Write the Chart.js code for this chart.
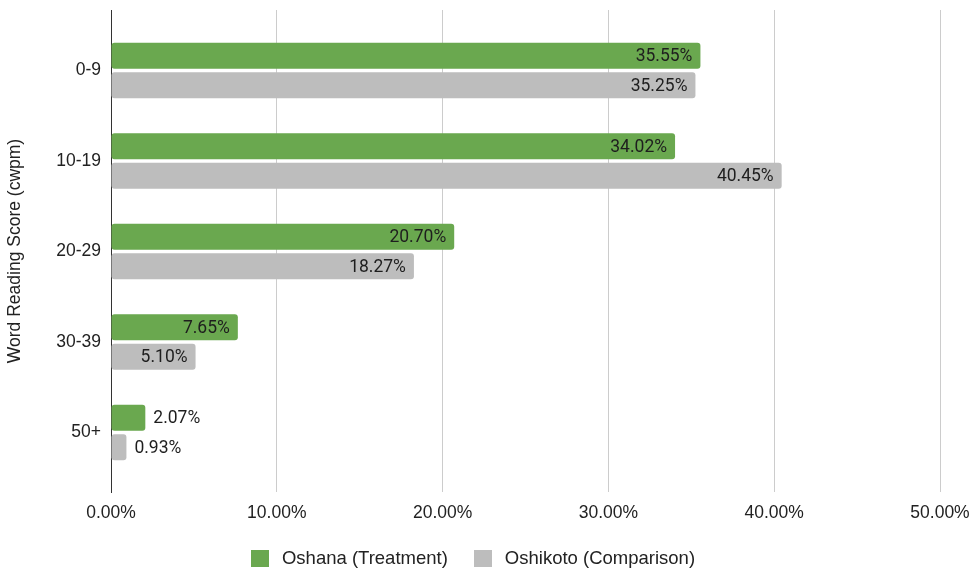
<!DOCTYPE html>
<html>
<head>
<meta charset="utf-8">
<title>Word Reading Score (cwpm)</title>
<script src="https://cdn.jsdelivr.net/npm/chart.js@4/dist/chart.umd.min.js"></script>
<style>
  html, body { margin: 0; padding: 0; background: #ffffff; }
  #wrap { position: relative; width: 973px; height: 572px; }
  #legend {
    position: absolute; left: 0; width: 946px; top: 547px;
    display: flex; justify-content: center; align-items: center;
    font: 18.5px "Liberation Sans", Arial, sans-serif; color: #222;
  }
  #legend .item { display: flex; align-items: center; margin: 0 13px; }
  #legend .swatch { width: 18px; height: 17px; margin-right: 13px; }
</style>
</head>
<body>
<div id="wrap">
  <canvas id="chart"></canvas>
  <div id="legend"></div>
</div>
<script>
// Score bands (words correct per minute)
const categories = ['0-9', '10-19', '20-29', '30-39', '50+'];
// Share of learners in each band, percent
const oshana = [35.55, 34.02, 20.70, 7.65, 2.07];
const oshikoto = [35.25, 40.45, 18.27, 5.10, 0.93];
const seriesNames = ['Oshana (Treatment)', 'Oshikoto (Comparison)'];
const seriesColors = ['#6aa84f', '#bdbdbd'];
// Value-axis ticks, percent
const xTicks = [0, 10, 20, 30, 40, 50];

const tickFont = { family: '"Liberation Sans", Arial, sans-serif', size: 17.5 };

// Writes each bar's percentage at its end: inside when it fits, outside otherwise
const barValueLabels = {
  id: 'barValueLabels',
  afterDatasetsDraw(chart) {
    const ctx = chart.ctx;
    ctx.save();
    ctx.font = '17.5px Roboto, "Liberation Sans", sans-serif';
    ctx.fillStyle = '#1e1e1e';
    ctx.textBaseline = 'middle';
    const pad = 8;
    chart.data.datasets.forEach((ds, di) => {
      const meta = chart.getDatasetMeta(di);
      meta.data.forEach((bar, i) => {
        const text = ds.data[i].x.toFixed(2) + '%';
        const w = ctx.measureText(text).width;
        const len = bar.x - bar.base;
        if (len >= w + pad * 2) {
          ctx.textAlign = 'right';
          ctx.fillText(text, bar.x - pad, bar.y + 1);
        } else {
          ctx.textAlign = 'left';
          ctx.fillText(text, bar.x + pad, bar.y + 1);
        }
      });
    });
    ctx.restore();
  }
};

const toPoints = (vals) => vals.map((v, i) => ({ y: i, x: v }));

new Chart(document.getElementById('chart'), {
  type: 'bar',
  data: {
    datasets: [
      { label: seriesNames[0], data: toPoints(oshana), backgroundColor: seriesColors[0] },
      { label: seriesNames[1], data: toPoints(oshikoto), backgroundColor: seriesColors[1] }
    ]
  },
  options: {
    indexAxis: 'y',
    responsive: true,
    maintainAspectRatio: false,
    animation: false,
    layout: { padding: { top: 10, right: 33, bottom: 40, left: 0 } },
    datasets: {
      bar: { categoryPercentage: 0.652, barPercentage: 0.88, borderRadius: 3, borderSkipped: false }
    },
    plugins: {
      legend: { display: false },
      tooltip: { enabled: false }
    },
    scales: {
      x: {
        type: 'linear',
        min: xTicks[0],
        max: xTicks[xTicks.length - 1],
        afterBuildTicks(scale) { scale.ticks = xTicks.map(v => ({ value: v })); },
        afterFit(scale) {
          scale.height = 40;
          scale.paddingLeft = 0;
          scale.paddingRight = 0;
        },
        grid: { color: '#cccccc', lineWidth: 1, drawTicks: false },
        border: { display: false },
        ticks: {
          padding: 11,
          color: '#222222',
          font: tickFont,
          callback: (v) => Number(v).toFixed(2) + '%'
        }
      },
      y: {
        type: 'linear',
        reverse: true,
        offset: false,
        min: -0.668,
        max: 4.657,
        afterBuildTicks(scale) { scale.ticks = categories.map((c, i) => ({ value: i })); },
        afterFit(scale) {
          scale.width = 111;
          scale.paddingTop = 0;
          scale.paddingBottom = 0;
        },
        grid: { display: false, drawTicks: false },
        border: { display: true, color: '#333333', width: 1 },
        ticks: {
          padding: 10,
          color: '#222222',
          font: tickFont,
          callback: (v) => categories[v] !== undefined ? categories[v] : ''
        },
        title: {
          display: true,
          text: 'Word Reading Score (cwpm)',
          color: '#222222',
          font: tickFont,
          padding: { top: 5, bottom: 0 }
        }
      }
    }
  },
  plugins: [barValueLabels]
});

// Legend row under the plot
const legend = document.getElementById('legend');
seriesNames.forEach((name, i) => {
  const item = document.createElement('div');
  item.className = 'item';
  const sw = document.createElement('span');
  sw.className = 'swatch';
  sw.style.background = seriesColors[i];
  const label = document.createElement('span');
  label.textContent = name;
  item.appendChild(sw);
  item.appendChild(label);
  legend.appendChild(item);
});
</script>
</body>
</html>
